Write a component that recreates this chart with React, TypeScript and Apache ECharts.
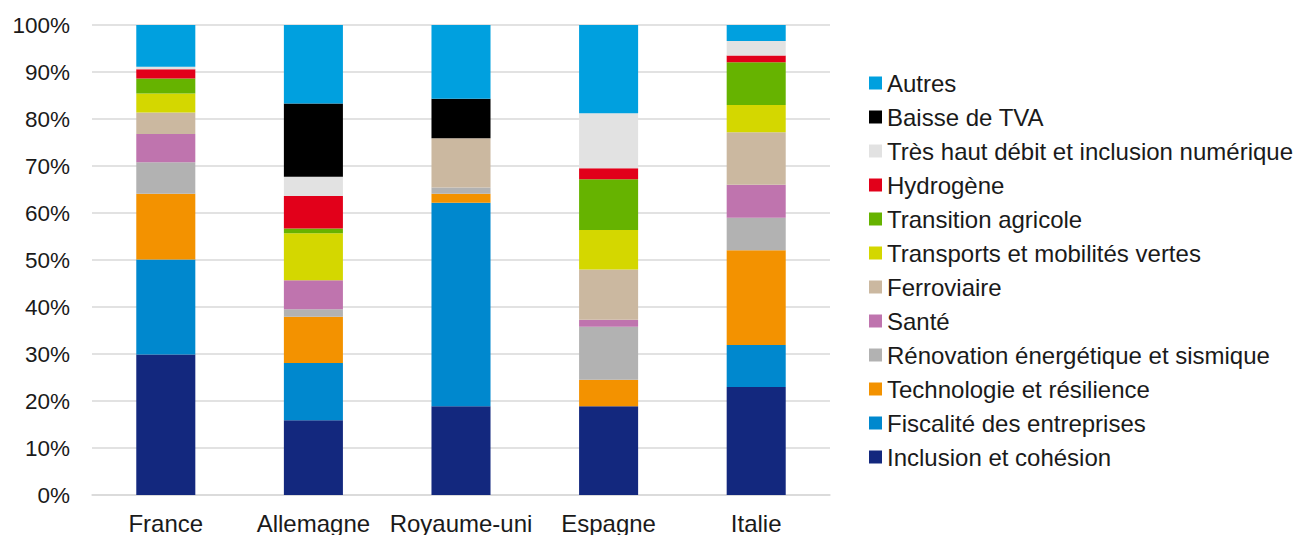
import React, { useEffect, useRef } from "react";
import * as echarts from "echarts";

const categories = ["France", "Allemagne", "Royaume-uni", "Espagne", "Italie"];

const seriesNames = [
  "Inclusion et cohésion",
  "Fiscalité des entreprises",
  "Technologie et résilience",
  "Rénovation énergétique et sismique",
  "Santé",
  "Ferroviaire",
  "Transports et mobilités vertes",
  "Transition agricole",
  "Hydrogène",
  "Très haut débit et inclusion numérique",
  "Baisse de TVA",
  "Autres",
];

const inclusion = [29.9, 15.9, 18.9, 18.9, 23.0];
const fiscalite = [20.2, 12.2, 43.3, 0, 8.9];
const technologie = [14.0, 9.8, 1.9, 5.6, 20.2];
const renovation = [6.7, 1.6, 1.3, 11.3, 6.9];
const sante = [6.0, 6.2, 0, 1.5, 7.0];
const ferroviaire = [4.6, 0, 10.5, 10.7, 11.2];
const transports = [4.0, 10.0, 0, 8.4, 5.8];
const agricole = [3.2, 1.0, 0, 10.8, 9.1];
const hydrogene = [2.0, 6.9, 0, 2.3, 1.4];
const tresHautDebit = [0.5, 4.1, 0, 11.7, 3.1];
const baisseTVA = [0, 15.6, 8.4, 0, 0];
const autres = [8.9, 16.7, 15.7, 18.8, 3.4];

const seriesValues = [
  inclusion,
  fiscalite,
  technologie,
  renovation,
  sante,
  ferroviaire,
  transports,
  agricole,
  hydrogene,
  tresHautDebit,
  baisseTVA,
  autres,
];

const colors = [
  "#13287E",
  "#0088CE",
  "#F39200",
  "#B2B2B2",
  "#BF74AE",
  "#CBB8A0",
  "#D4D700",
  "#66B300",
  "#E2001A",
  "#E2E2E2",
  "#000000",
  "#00A0DF",
];

const yTicks = [0, 10, 20, 30, 40, 50, 60, 70, 80, 90, 100];

const FONT = "'Liberation Sans', Arial, sans-serif";

export default function App() {
  const ref = useRef<HTMLDivElement>(null);

  useEffect(() => {
    if (!ref.current) return;
    const chart = echarts.init(ref.current, undefined, { renderer: "svg" });
    chart.setOption({
      animation: false,
      backgroundColor: "#ffffff",
      textStyle: { fontFamily: FONT },
      color: colors,
      grid: { left: 92, right: 465, top: 25, bottom: 40, containLabel: false },
      legend: {
        orient: "vertical",
        left: 869,
        top: 71,
        padding: 0,
        itemWidth: 13,
        itemHeight: 13,
        itemGap: 10,
        icon: "rect",
        data: [...seriesNames].reverse(),
        textStyle: { fontSize: 24, color: "#1a1a1a", fontFamily: FONT, lineHeight: 24 },
      },
      xAxis: {
        type: "category",
        data: categories,
        axisLine: { show: true, lineStyle: { color: "#D9D9D9", width: 1.5 } },
        axisTick: { show: false },
        axisLabel: { fontSize: 24, color: "#1a1a1a", margin: 16, interval: 0, fontFamily: FONT },
      },
      yAxis: {
        type: "value",
        min: yTicks[0],
        max: yTicks[yTicks.length - 1],
        interval: 10,
        axisLine: { show: false },
        axisTick: { show: false },
        splitLine: { lineStyle: { color: "#D9D9D9", width: 1.5 } },
        axisLabel: {
          fontSize: 22.5,
          color: "#1a1a1a",
          margin: 22,
          fontFamily: FONT,
          formatter: (v: number) => `${v}%`,
        },
      },
      series: seriesNames.map((name, i) => ({
        name,
        type: "bar",
        stack: "total",
        barWidth: "40%",
        data: seriesValues[i],
        itemStyle: { color: colors[i] },
      })),
    });
    return () => chart.dispose();
  }, []);

  return (
    <div
      ref={ref}
      style={{ position: "fixed", left: 0, top: 0, width: 1295, height: 535, background: "#fff" }}
    />
  );
}
